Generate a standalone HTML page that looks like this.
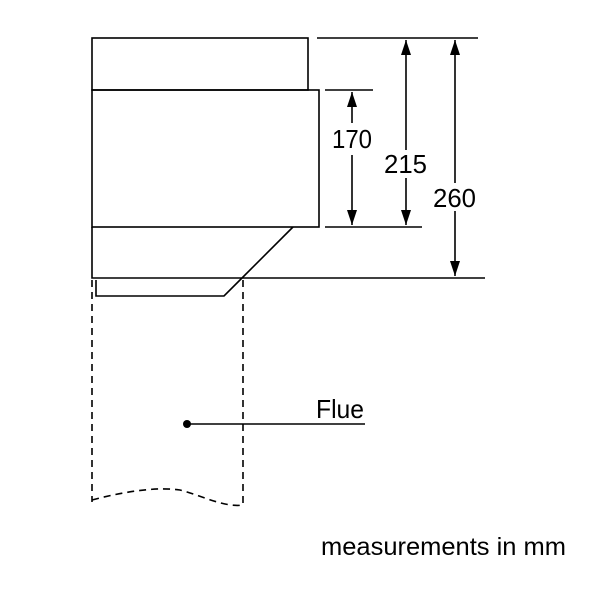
<!DOCTYPE html>
<html><head><style>html,body{margin:0;padding:0;background:#fff;}</style></head>
<body>
<svg width="600" height="600" viewBox="0 0 600 600" xmlns="http://www.w3.org/2000/svg" font-family="Liberation Sans, Arial, sans-serif">
<defs>
<marker id="a" viewBox="0 0 10 10" preserveAspectRatio="none" refX="10" refY="5" markerWidth="15" markerHeight="10" orient="auto-start-reverse" markerUnits="userSpaceOnUse"><path d="M0,0 L10,5 L0,10 z" fill="#000"/></marker>
</defs>
<g stroke="#000" stroke-width="1.6" fill="none">
<rect x="92" y="38" width="216" height="52"/>
<rect x="92" y="90" width="227" height="137"/>
<path d="M92,227 V278 H485"/>
<path d="M293,227 L242,278"/>
<path d="M96,280 V296 H224 L242,278"/>
<line x1="317" y1="38" x2="478" y2="38"/>
<line x1="325" y1="90" x2="373" y2="90"/>
<line x1="325" y1="227" x2="422" y2="227"/>
<line x1="352" y1="92" x2="352" y2="123" marker-start="url(#a)"/>
<line x1="352" y1="155" x2="352" y2="225" marker-end="url(#a)"/>
<line x1="406" y1="40" x2="406" y2="225" marker-start="url(#a)" marker-end="url(#a)"/>
<line x1="455" y1="40" x2="455" y2="276" marker-start="url(#a)" marker-end="url(#a)"/>
<g stroke-dasharray="7,5">
<line x1="92" y1="280" x2="92" y2="502"/>
<line x1="243" y1="280" x2="243" y2="505"/>
<path d="M92,500 C130,490 160,487 180,490 C200,495 225,508 243,505"/>
</g>
<line x1="187" y1="424" x2="365" y2="424"/>
</g>
<circle cx="187" cy="424" r="4" fill="#000"/>
<g font-size="26" fill="#000">
<rect x="340" y="124" width="30" height="30" fill="#fff"/>
<text x="332" y="148" textLength="40" lengthAdjust="spacingAndGlyphs">170</text>
<rect x="385" y="150" width="40" height="28" fill="#fff"/>
<text x="384" y="173" textLength="43" lengthAdjust="spacingAndGlyphs">215</text>
<rect x="435" y="183" width="40" height="28" fill="#fff"/>
<text x="433" y="207" textLength="43" lengthAdjust="spacingAndGlyphs">260</text>
<text x="316" y="418" textLength="48" lengthAdjust="spacingAndGlyphs">Flue</text>
<text x="321" y="555" font-size="25" textLength="245" lengthAdjust="spacingAndGlyphs">measurements in mm</text>
</g>
</svg>
</body></html>
